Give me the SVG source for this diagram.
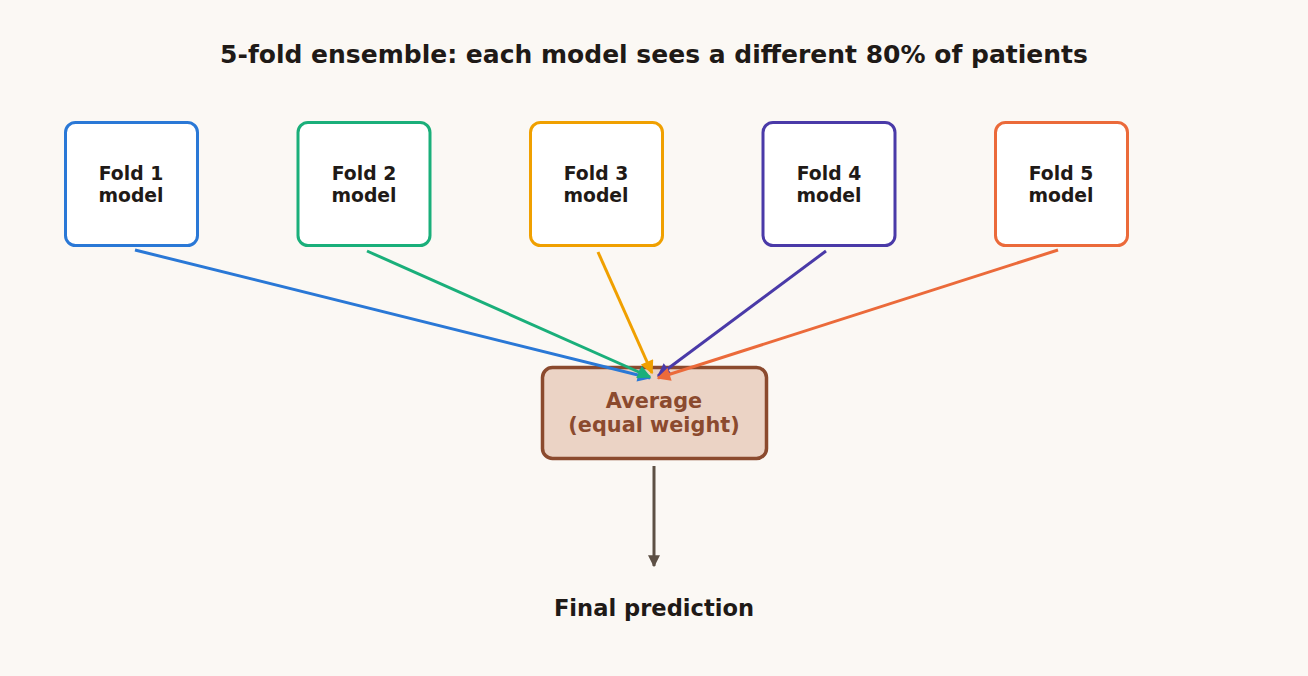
<svg xmlns="http://www.w3.org/2000/svg" width="1308" height="676" viewBox="0 0 1308 676">
<style>
text{font-family:"DejaVu Sans","Liberation Sans",sans-serif;font-weight:bold;text-anchor:middle}
.fold{fill:#ffffff;stroke-width:3}
.ft{font-size:18.8px;fill:#1f1a17}
.c{fill:none;stroke-width:3}
</style>
<defs>
<marker id="m1" viewBox="0 0 10 10" refX="9" refY="5" markerWidth="5" markerHeight="4.5" orient="auto" markerUnits="strokeWidth"><path d="M0,0L10,5L0,10z" fill="#2a78d6"/></marker>
<marker id="m2" viewBox="0 0 10 10" refX="9" refY="5" markerWidth="5" markerHeight="4.5" orient="auto" markerUnits="strokeWidth"><path d="M0,0L10,5L0,10z" fill="#1aaf7a"/></marker>
<marker id="m3" viewBox="0 0 10 10" refX="9" refY="5" markerWidth="5" markerHeight="4.5" orient="auto" markerUnits="strokeWidth"><path d="M0,0L10,5L0,10z" fill="#f0a000"/></marker>
<marker id="m4" viewBox="0 0 10 10" refX="9" refY="5" markerWidth="5" markerHeight="4.5" orient="auto" markerUnits="strokeWidth"><path d="M0,0L10,5L0,10z" fill="#4a3aa8"/></marker>
<marker id="m5" viewBox="0 0 10 10" refX="9" refY="5" markerWidth="5" markerHeight="4.5" orient="auto" markerUnits="strokeWidth"><path d="M0,0L10,5L0,10z" fill="#eb6a3a"/></marker>
<marker id="m6" viewBox="0 0 10 10" refX="9" refY="5" markerWidth="4" markerHeight="4" orient="auto" markerUnits="strokeWidth"><path d="M0,0L10,5L0,10z" fill="#5d5045"/></marker>
</defs>
<rect width="1308" height="676" fill="#fbf8f4"/>
<text x="654" y="63" style="font-size:25px;fill:#1f1a17">5-fold ensemble: each model sees a different 80% of patients</text>
<g id="fold1"><rect class="fold" x="65.5" y="122.5" width="132" height="123" rx="10" stroke="#2a78d6"/><text class="ft" x="131" y="180">Fold 1</text><text class="ft" x="131" y="202">model</text></g>
<g id="fold2"><rect class="fold" x="298" y="122.5" width="132" height="123" rx="10" stroke="#1aaf7a"/><text class="ft" x="364" y="180">Fold 2</text><text class="ft" x="364" y="202">model</text></g>
<g id="fold3"><rect class="fold" x="530.5" y="122.5" width="132" height="123" rx="10" stroke="#f0a000"/><text class="ft" x="596" y="180">Fold 3</text><text class="ft" x="596" y="202">model</text></g>
<g id="fold4"><rect class="fold" x="763" y="122.5" width="132" height="123" rx="10" stroke="#4a3aa8"/><text class="ft" x="829" y="180">Fold 4</text><text class="ft" x="829" y="202">model</text></g>
<g id="fold5"><rect class="fold" x="995.5" y="122.5" width="132" height="123" rx="10" stroke="#eb6a3a"/><text class="ft" x="1061" y="180">Fold 5</text><text class="ft" x="1061" y="202">model</text></g>
<g id="average"><rect x="542.5" y="367.5" width="224" height="91" rx="10" fill="#ebd3c5" stroke="#8b4a2e" stroke-width="3.5"/><text x="654" y="408" style="font-size:20.8px;fill:#8b4a2e">Average</text><text x="654" y="432" style="font-size:20.8px;fill:#8b4a2e">(equal weight)</text></g>
<g id="final"><text x="654" y="616" style="font-size:22.6px;fill:#1f1a17">Final prediction</text></g>
<g id="connectors">
<path class="c" d="M135,250L650,378" stroke="#2a78d6" marker-end="url(#m1)"/>
<path class="c" d="M367,251L650,377" stroke="#1aaf7a" marker-end="url(#m2)"/>
<path class="c" d="M598,252L652,373" stroke="#f0a000" marker-end="url(#m3)"/>
<path class="c" d="M826,251L658,376" stroke="#4a3aa8" marker-end="url(#m4)"/>
<path class="c" d="M1058,250L658,378" stroke="#eb6a3a" marker-end="url(#m5)"/>
<path class="c" d="M654,466L654,566" stroke="#5d5045" stroke-width="3.5" marker-end="url(#m6)"/>
</g>
</svg>
